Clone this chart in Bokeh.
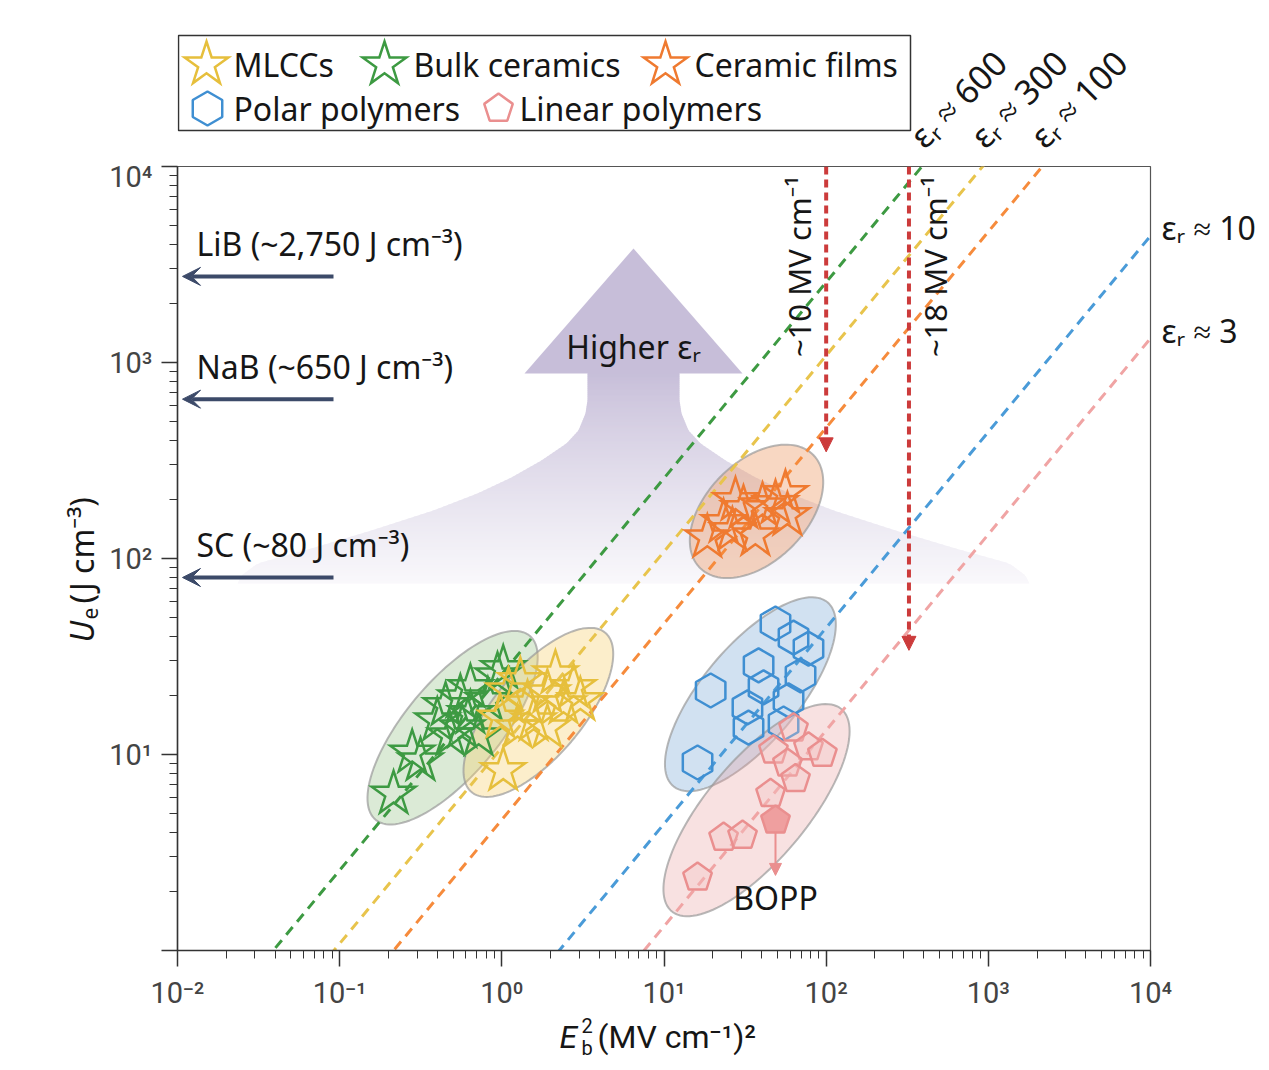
import numpy as np
from bokeh.plotting import figure
from bokeh.layouts import column, row
from bokeh.models import Label, Arrow, NormalHead, VeeHead, FixedTicker, LogAxis
from bokeh.embed import file_html
from bokeh.resources import INLINE

# relative permittivity of each dashed guide line, U = 1/2 e0 er E^2
er_lines = [580, 245, 105, 10, 3]
er_labels = ["600", "300", "100", "10", "3"]
HALF_EPS0 = 0.5 * 8.854e-12 * 1e16 / 1e6   # J cm^-3 per (MV cm^-1)^2

# other storage devices (J cm^-3)
dev_names = ["LiB (~2,750 J cm⁻³)", "NaB (~650 J cm⁻³)", "SC (~80 J cm⁻³)"]
dev_ue = [2750, 650, 80]

# breakdown fields (MV cm^-1) of the red arrows and where they stop
eb_fields = [10, 18]
eb_stop = [350, 34]

# E_b^2 (MV cm^-1)^2 and U_e (J cm^-3) of each group
mlcc_x = [2.14, 1.91, 1.10, 1.44, 1.02, 0.98, 1.25, 1.91, 2.40, 3.05, 1.57, 1.30, 2.77]
mlcc_y = [25.9, 20.7, 21.2, 18.2, 8.3, 15.4, 13.7, 13.7, 18.2, 18.9, 14.9, 23.9, 22.0]
bulk_x = [0.215, 0.28, 0.315, 0.40, 0.45, 0.48, 0.555, 0.64, 0.57, 0.72, 0.64, 0.82, 0.94, 1.02]
bulk_y = [6.3, 10.2, 9.3, 14.9, 17.8, 12.5, 19.5, 22.0, 13.7, 12.5, 16.2, 18.9, 25.3, 27.5]
film_x = [18.5, 27.6, 30.9, 36.6, 40.5, 56.1, 57.7, 48.7, 26.4, 23.3]
film_y = [128, 198, 180, 131, 186, 215, 166, 191, 139, 153]
polar_x = [48.7, 62.9, 77.8, 19.4, 38.3, 69.5, 41.1, 58.6, 32.7, 33.2, 54.6, 16.1]
polar_y = [46.6, 39.5, 34.7, 21.2, 28.5, 25.3, 22.0, 18.9, 17.4, 13.7, 14.4, 9.1]
linear_x = [62.9, 47.3, 77.8, 94.8, 57.7, 64.7, 45.4, 23.3, 30.5, 16.1]
linear_y = [13.6, 10.5, 10.9, 10.1, 9.0, 7.5, 6.3, 3.77, 3.86, 2.36]
bopp_x = [48.7]
bopp_y = [4.61]

GREEN, YELLOW, ORANGE, BLUE, PINK = "#3d9a42", "#e6bf3c", "#ef7a30", "#3f8fd2", "#ea8f8f"
line_cols = ["#3d9a42", "#e8c44c", "#f68b3c", "#4a9bd8", "#f0a4a4"]
RED = "#cc3b3b"
NAVY = "#3c4a69"
INK = "#161616"
FONT = "Noto Sans"
TFONT = "Roboto"
FS = "32px"

W = 1266
PX_L, PX_R, PY_T, PY_B = 177, 1150, 166, 950   # main frame edges on the page
LEFT_W = 106     # strip holding the y title
TOP_B = 7        # room above the frame for the 10^4 tick label
BOT_B = 64       # room below the frame for the x tick labels
BOT_H = 52       # strip holding the x title
DX = 6 / (PX_R - PX_L)
DY = 4 / (PY_B - PY_T)


def px2x(px):
    return 10 ** (-2 + (px - PX_L) * DX)


def py2y(py):
    return 10 ** ((PY_B - py) * DY)


def around(x, y, dxs, dys):
    # pixel offsets (y up) around a data point -> data coords on log axes
    return [x * 10 ** (d * DX) for d in dxs], [y * 10 ** (d * DY) for d in dys]


def ngon(n, r, rot=90.0):
    a = np.radians(rot + np.arange(n) * 360.0 / n)
    return list(r * np.cos(a)), list(r * np.sin(a))


def lab(fig, x, y, s, size=FS, **kw):
    kw.setdefault("text_font", FONT)
    kw.setdefault("text_color", INK)
    fig.add_layout(Label(x=x, y=y, text=s, text_font_size=size, **kw))


def strip(**kw):
    f = figure(output_backend="svg", toolbar_location=None,
               x_axis_location=None, y_axis_location=None, **kw)
    f.grid.visible = False
    f.outline_line_color = None
    return f


# ---------------- main plot ----------------
p = figure(width=W - LEFT_W, height=TOP_B + PY_B - PY_T + BOT_B,
           x_axis_type="log", y_axis_type="log",
           x_range=(1e-2, 1e4), y_range=(1, 1e4),
           output_backend="svg", toolbar_location=None,
           min_border_left=PX_L - LEFT_W, min_border_right=W - PX_R,
           min_border_top=TOP_B, min_border_bottom=BOT_B)
p.grid.visible = False
p.outline_line_color = "#555555"
p.outline_line_width = 1.2

xt = [1e-2, 1e-1, 1.0, 10.0, 100.0, 1000.0, 10000.0]
p.xaxis.ticker = FixedTicker(ticks=xt, minor_ticks=[m * 10.0 ** k for k in range(-2, 4) for m in range(2, 10)])
p.yaxis.ticker = FixedTicker(ticks=xt[2:], minor_ticks=[m * 10.0 ** k for k in range(0, 4) for m in range(2, 10)])
p.xaxis.major_label_overrides = {1e-2: "10⁻²", 1e-1: "10⁻¹", 1.0: "10⁰", 10.0: "10¹",
                                 100.0: "10²", 1000.0: "10³", 10000.0: "10⁴"}
p.yaxis.major_label_overrides = {1.0: "", 10.0: "10¹", 100.0: "10²", 1000.0: "10³", 10000.0: "10⁴"}
for ax in (p.xaxis[0], p.yaxis[0]):
    ax.major_tick_in = 0
    ax.major_tick_out = 16
    ax.minor_tick_in = 0
    ax.minor_tick_out = 8
    ax.axis_line_color = "#333333"
    ax.axis_line_width = 1.5
    ax.major_tick_line_color = "#333333"
    ax.major_tick_line_width = 1.5
    ax.minor_tick_line_color = "#333333"
    ax.major_label_text_font = TFONT
    ax.major_label_text_font_size = "29px"
    ax.major_label_text_color = "#444444"
    ax.major_label_standoff = 9

# right-hand labels of the two low-permittivity lines
k_right = [HALF_EPS0 * er * 1e4 * 10 ** (8 * DY) for er in er_lines if HALF_EPS0 * er * 1e4 < 1e4]
t_right = ["εᵣ ≈ " + t for er, t in zip(er_lines, er_labels) if HALF_EPS0 * er * 1e4 < 1e4]
rax = LogAxis(ticker=FixedTicker(ticks=k_right, minor_ticks=[]),
              major_label_overrides=dict(zip(k_right, t_right)))
rax.axis_line_color = None
rax.major_tick_line_color = None
rax.minor_tick_line_color = None
rax.major_label_text_font = FONT
rax.major_label_text_font_size = FS
rax.major_label_text_color = INK
rax.major_label_standoff = 5
p.add_layout(rax, "right")

# "Higher er" arrow with a fading shaft
p.patch([px2x(633), px2x(524), px2x(742)], [py2y(248), py2y(373), py2y(373)],
        fill_color="#c7bed9", line_color=None)
shaft_py = [372, 400, 413, 430, 443, 460, 477, 493, 510, 530, 548, 563, 575, 583]
shaft_half = [46, 46, 48, 55, 67, 92, 122, 156, 200, 262, 322, 376, 392, 396]
top_rgb = np.array([199, 190, 217])
bot_rgb = np.array([250, 249, 252])
bxs, bys, bcs = [], [], []
for y0 in np.arange(372, 583, 2.0):
    y1 = min(y0 + 2.8, 583)
    h0 = np.interp(y0, shaft_py, shaft_half)
    h1 = np.interp(y1, shaft_py, shaft_half)
    bxs.append([px2x(633 - h0), px2x(633 + h0), px2x(633 + h1), px2x(633 - h1)])
    bys.append([py2y(y0), py2y(y0), py2y(y1), py2y(y1)])
    t = (y0 - 372) / (583 - 372)
    c = (top_rgb + (bot_rgb - top_rgb) * t ** 0.85).astype(int)
    bcs.append("#%02x%02x%02x" % tuple(c))
p.patches(bxs, bys, fill_color=bcs, line_color=None)

# group ellipses: centre (data), semi axes (px), tilt (deg)
ell = [(0.497, 13.7, 120, 47, 50, "#8fbf80", 0.32),
       (1.68, 16.4, 104, 44, 50, "#f5cf6a", 0.35),
       (37.2, 174, 80, 50, 45, "#ee9a66", 0.40),
       (34.1, 20.3, 120, 48, 50, "#7aaad8", 0.35),
       (37.2, 5.2, 132, 50, 50, "#e89a9a", 0.30)]
tt = np.linspace(0, 2 * np.pi, 120)
for cx, cy, a, b, th, col, al in ell:
    r = np.radians(th)
    dx = a * np.cos(tt) * np.cos(r) - b * np.sin(tt) * np.sin(r)
    dy = a * np.cos(tt) * np.sin(r) + b * np.sin(tt) * np.cos(r)
    ex, ey = around(cx, cy, dx, dy)
    p.patch(ex, ey, fill_color=col, fill_alpha=al, line_color="#9a9a9a", line_alpha=0.7, line_width=2)

# dashed guide lines
for er, col in zip(er_lines, line_cols):
    k = HALF_EPS0 * er
    p.line([1e-3, 1e5], [k * 1e-3, k * 1e5], line_color=col, line_width=3, line_dash="10 7")

STAR = dict(marker="star", size=46, fill_alpha=0, line_width=2.5, line_join="miter")
HEX = dict(marker="hex", size=34, angle=np.pi / 6, fill_alpha=0, line_width=2.5)
pox, poy = ngon(5, 15)

p.scatter(bulk_x, bulk_y, line_color=GREEN, **STAR)
p.scatter(mlcc_x, mlcc_y, line_color=YELLOW, **STAR)
p.scatter(film_x, film_y, line_color=ORANGE, **STAR)
p.scatter(polar_x, polar_y, line_color=BLUE, **HEX)
lxs, lys = [], []
for x, y in zip(linear_x, linear_y):
    a, b = around(x, y, pox, poy)
    lxs.append(a)
    lys.append(b)
p.patches(lxs, lys, fill_color="#f4c4c4", fill_alpha=0.35, line_color=PINK, line_width=2.5)
bx, by = around(bopp_x[0], bopp_y[0], pox, poy)
p.patch(bx, by, fill_color="#ee9b9b", fill_alpha=0.95, line_color=PINK, line_width=2.5)

# arrows and in-plot notes
for f, stop in zip(eb_fields, eb_stop):
    p.add_layout(Arrow(x_start=f ** 2, y_start=1e4, x_end=f ** 2, y_end=stop,
                       line_color=RED, line_width=4, line_dash="8 5",
                       end=NormalHead(size=14, fill_color=RED, line_color=RED, line_width=1)))
for name, ue in zip(dev_names, dev_ue):
    p.add_layout(Arrow(x_start=px2x(333), y_start=ue, x_end=px2x(182), y_end=ue,
                       line_color=NAVY, line_width=4,
                       end=VeeHead(size=18, fill_color=NAVY, line_color=NAVY, line_width=1)))
    lab(p, px2x(196), ue * 10 ** (33 * DY), name, text_baseline="middle")
p.add_layout(Arrow(x_start=bopp_x[0], y_start=bopp_y[0] * 10 ** (-12 * DY), x_end=bopp_x[0],
                   y_end=bopp_y[0] * 10 ** (-55 * DY), line_color=PINK, line_width=2,
                   end=NormalHead(size=12, fill_color=PINK, line_color=PINK, line_width=1)))

lab(p, bopp_x[0], py2y(897), "BOPP", text_align="center", text_baseline="middle")
lab(p, px2x(633), py2y(346), "Higher εᵣ", text_align="center", text_baseline="middle")
lab(p, eb_fields[0] ** 2, py2y(266), "~10 MV cm⁻¹", size="31px", angle=np.pi / 2, x_offset=-6,
    text_align="center", text_baseline="bottom")
lab(p, eb_fields[1] ** 2, py2y(266), "~18 MV cm⁻¹", size="31px", angle=np.pi / 2, x_offset=5,
    text_align="center", text_baseline="top")

# ---------------- top strip: legend and steep-line labels ----------------
TOP_H = PY_T - TOP_B
top = strip(width=W, height=TOP_H, x_axis_type="log", y_axis_type="log",
            x_range=p.x_range, y_range=(py2y(TOP_H), py2y(0)),
            min_border_left=PX_L, min_border_right=W - PX_R, min_border_top=0, min_border_bottom=0)
top.quad(left=px2x(178), right=px2x(910), top=py2y(35), bottom=py2y(130),
         fill_color=None, line_color="#333333", line_width=1.5)
leg_pos = [(206, 64, 233), (384, 64, 413), (665, 64, 694), (207, 108, 233), (498, 108, 519)]
leg_name = ["MLCCs", "Bulk ceramics", "Ceramic films", "Polar polymers", "Linear polymers"]
for (cx, cy, tx), col in zip(leg_pos[:3], [YELLOW, GREEN, ORANGE]):
    top.scatter([px2x(cx)], [py2y(cy)], line_color=col, **STAR)
top.scatter([px2x(leg_pos[3][0])], [py2y(leg_pos[3][1])], line_color=BLUE, **HEX)
qx, qy = around(px2x(leg_pos[4][0]), py2y(leg_pos[4][1]), pox, poy)
top.patch(qx, qy, fill_color=None, line_color=PINK, line_width=2.5)
for (cx, cy, tx), name in zip(leg_pos, leg_name):
    lab(top, px2x(tx), py2y(cy), name, text_baseline="middle")
for er, t in zip(er_lines, er_labels):
    k = HALF_EPS0 * er
    if k * 1e4 > 1e4:
        lab(top, 1e4 / k, 1e4, "εᵣ ≈ " + t, size="34px", angle=np.pi / 4, x_offset=10, y_offset=9,
            text_align="left", text_baseline="bottom")

# ---------------- left strip: y title ----------------
left = strip(width=LEFT_W, height=TOP_B + PY_B - PY_T + BOT_B, y_axis_type="log",
             x_range=(0, LEFT_W), y_range=p.y_range,
             min_border_left=0, min_border_right=0, min_border_top=TOP_B, min_border_bottom=BOT_B)
lab(left, 81, py2y(642), "U", angle=np.pi / 2, text_font_style="italic",
    text_align="left", text_baseline="middle")
lab(left, 89, py2y(619), "e", size="21px", angle=np.pi / 2, text_align="left", text_baseline="middle")
lab(left, 81, py2y(603), "(J cm⁻³)", angle=np.pi / 2, text_align="left", text_baseline="middle")

# ---------------- bottom strip: x title ----------------
y_top_px = PY_B + BOT_B
bot = strip(width=W, height=BOT_H, x_axis_type="log", y_axis_type="log",
            x_range=p.x_range, y_range=(py2y(y_top_px + BOT_H), py2y(y_top_px)),
            min_border_left=PX_L, min_border_right=W - PX_R, min_border_top=0, min_border_bottom=0)
lab(bot, px2x(559), py2y(1036), "E", text_font=TFONT, text_font_style="italic", text_baseline="middle")
lab(bot, px2x(581), py2y(1025), "2", size="20px", text_font=TFONT, text_baseline="middle")
lab(bot, px2x(581), py2y(1047), "b", size="20px", text_font=TFONT, text_baseline="middle")
lab(bot, px2x(597), py2y(1036), "(MV cm⁻¹)²", text_font=TFONT, text_baseline="middle")

page = column(top, row(left, p), bot)
open("out.html", "w").write(file_html(page, INLINE))
